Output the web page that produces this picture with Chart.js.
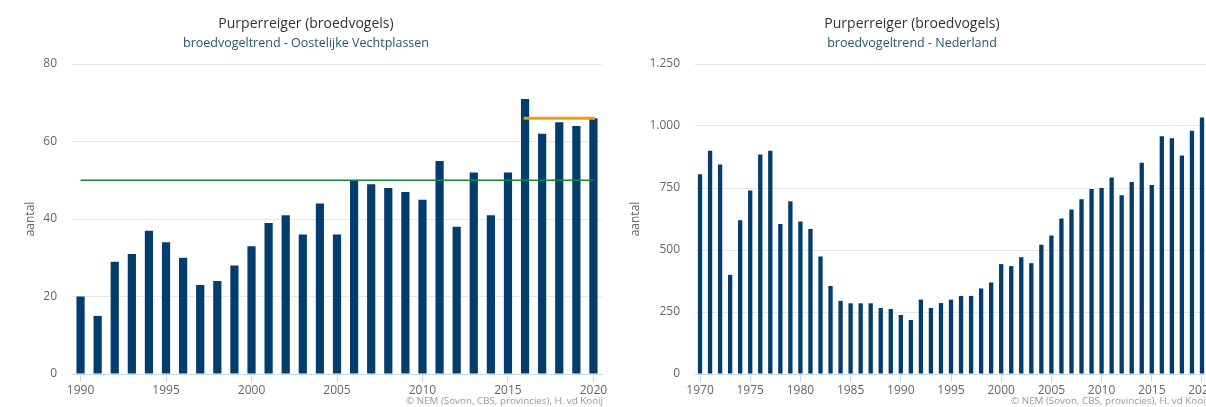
<!DOCTYPE html>
<html>
<head>
<meta charset="utf-8">
<script src="https://cdn.jsdelivr.net/npm/chart.js@4"></script>
<style>
  html, body { margin: 0; padding: 0; background: #fff; overflow: hidden; width: 1206px; height: 407px; }
  .panel { position: absolute; top: 0; height: 407px; }
  .panel canvas { position: absolute; left: 0; top: 0; }
  .title { position: absolute; left: 0; right: 0; text-align: center; font-family: "Open Sans", sans-serif; }
  .main { top: 13px; font-size: 14px; color: #333; line-height: 20px; }
  .sub { top: 35px; font-size: 12.5px; color: #27576a; line-height: 16px; }
  .credit { position: absolute; top: 394px; font-family: "Open Sans", sans-serif; font-size: 9.8px; color: #999; white-space: nowrap; }
</style>
</head>
<body>
<div class="panel" id="leftPanel" style="left:0; width:612px;">
  <canvas id="leftChart" width="612" height="407"></canvas>
  <div class="title main">Purperreiger (broedvogels)</div>
  <div class="title sub">broedvogeltrend - Oostelijke Vechtplassen</div>
  <div class="credit" style="right:9px;">© NEM (Sovon, CBS, provincies), H. vd Kooij</div>
</div>
<div class="panel" id="rightPanel" style="left:603px; width:618px;">
  <canvas id="rightChart" width="618" height="407"></canvas>
  <div class="title main">Purperreiger (broedvogels)</div>
  <div class="title sub">broedvogeltrend - Nederland</div>
  <div class="credit" style="right:13px;">© NEM (Sovon, CBS, provincies), H. vd Kooij</div>
</div>
<script>
// Oostelijke Vechtplassen, 1990-2020
const localYears = []
for (let y = 1990; y <= 2020; y++) localYears.push(String(y))
const localCounts = [20, 15, 29, 31, 37, 34, 30, 23, 24, 28,
                     33, 39, 41, 36, 44, 36, 50, 49, 48, 47,
                     45, 55, 38, 52, 41, 52, 71, 62, 65, 64, 66]
const refLineYears = ["1990", "2020"]
const refLineValues = [50, 50]
const recentYears = ["2016", "2020"]
const recentValues = [66, 66]
const localTicks = [0, 20, 40, 60, 80]

// Nederland, 1970-2020
const nlYears = []
for (let y = 1970; y <= 2020; y++) nlYears.push(String(y))
const nlCounts = [805, 900, 845, 400, 620, 740, 885, 900, 605, 697,
                  615, 585, 474, 355, 295, 285, 285, 285, 266, 262,
                  238, 218, 300, 266, 286, 300, 315, 315, 345, 369,
                  443, 435, 471, 447, 521, 558, 627, 663, 705, 746,
                  750, 792, 721, 774, 852, 762, 959, 951, 881, 981, 1034]
const nlTicks = [0, 250, 500, 750, 1000, 1250]

const BAR = "#023d6d"
const FONT = "'Open Sans', sans-serif"

function fmt(v) {
  return String(v).replace(/\B(?=(\d{3})+(?!\d))/g, ".")
}

function makeOptions(years, ticks, plotLeft, titlePad) {
  return {
    responsive: false,
    animation: false,
    layout: { padding: { top: 64, bottom: 13, left: 0, right: 0 } },
    plugins: { legend: { display: false }, tooltip: { enabled: false }, title: { display: false } },
    scales: {
      x: {
        offset: true,
        grid: {
          offset: false,
          drawOnChartArea: false,
          drawTicks: true,
          tickLength: 8,
          tickColor: ctx => (Number(years[ctx.index]) % 5 === 0 ? "#ccd6eb" : "rgba(0,0,0,0)")
        },
        border: { display: true, color: "#ccd6eb" },
        ticks: {
          autoSkip: false,
          maxRotation: 0,
          padding: 1,
          color: "#666",
          font: { family: FONT, size: 12 },
          callback: function (value, index) {
            const lab = years[index]
            return Number(lab) % 5 === 0 ? lab : ""
          }
        },
        afterFit: s => { s.height = 20 }
      },
      y: {
        min: ticks[0],
        max: ticks[ticks.length - 1],
        afterBuildTicks: s => { s.ticks = ticks.map(v => ({ value: v })) },
        grid: { color: "#e6e6e6", drawTicks: false },
        border: { display: false },
        ticks: {
          padding: 15,
          color: "#666",
          font: { family: FONT, size: 12 },
          callback: v => fmt(v)
        },
        title: {
          display: true,
          text: "aantal",
          color: "#666",
          font: { family: FONT, size: 12 },
          padding: { top: titlePad, bottom: 0 }
        },
        afterFit: s => { s.width = plotLeft }
      }
    }
  }
}

const leftOpts = makeOptions(localYears, localTicks, 72, 23)
leftOpts.layout.padding.right = 10
new Chart(document.getElementById("leftChart"), {
  type: "bar",
  data: {
    labels: localYears,
    datasets: [
      {
        type: "line",
        data: refLineYears.map((x, i) => ({ x: x, y: refLineValues[i] })),
        borderColor: "#17843a",
        borderWidth: 1.3,
        pointRadius: 0,
        order: 0
      },
      {
        type: "line",
        data: recentYears.map((x, i) => ({ x: x, y: recentValues[i] })),
        borderColor: "#f39c12",
        borderWidth: 3,
        borderCapStyle: "square",
        pointRadius: 0,
        order: 0
      },
      {
        data: localCounts,
        backgroundColor: BAR,
        barPercentage: 0.48,
        categoryPercentage: 1,
        order: 1
      }
    ]
  },
  options: leftOpts
})

const rightOpts = makeOptions(nlYears, nlTicks, 92, 25)
rightOpts.layout.padding.right = 14
new Chart(document.getElementById("rightChart"), {
  type: "bar",
  data: {
    labels: nlYears,
    datasets: [
      {
        data: nlCounts,
        backgroundColor: BAR,
        barPercentage: 0.43,
        categoryPercentage: 1
      }
    ]
  },
  options: rightOpts
})
</script>
</body>
</html>
